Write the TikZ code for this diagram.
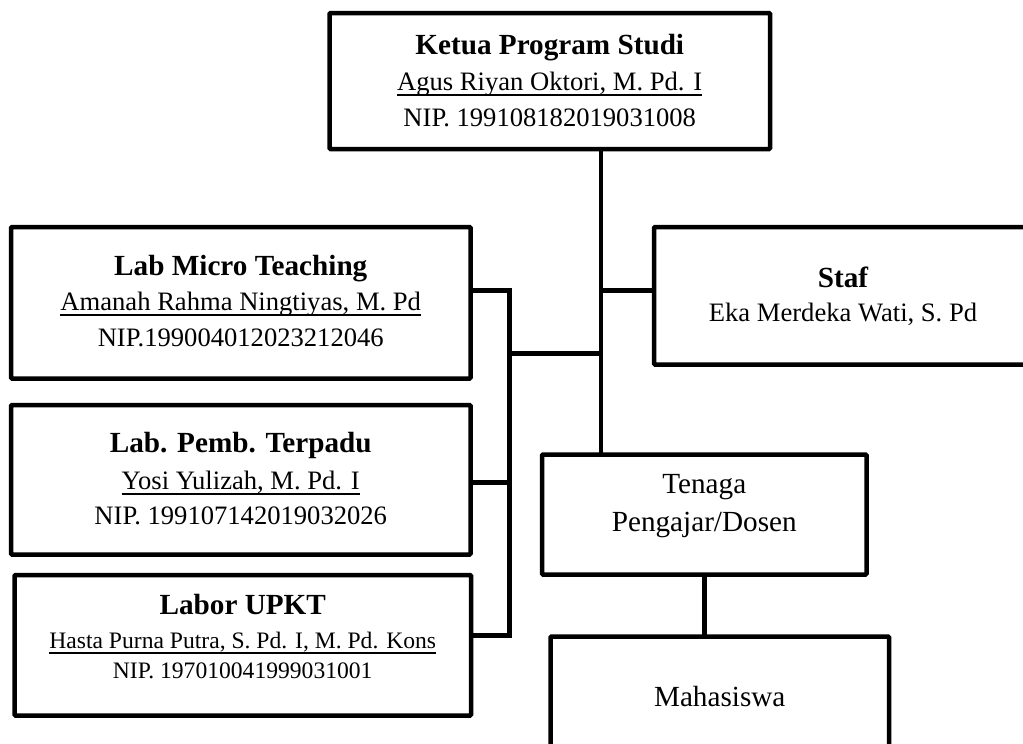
\documentclass[tikz,border=0pt]{standalone}
\usepackage{fontspec}
\setmainfont{Liberation Serif}
\newsavebox\ulbox
\newcommand\myul[1]{\sbox\ulbox{#1}\rlap{\rule[-5.5pt]{\wd\ulbox}{1.4pt}}\usebox\ulbox}
\begin{document}
\begin{tikzpicture}[x=1pt,y=-1pt,
  box/.style={draw,line width=4.5pt,rounded corners=1pt,outer sep=0pt,inner sep=0pt},
  conn/.style={line width=4.5pt},
  ttl/.style={anchor=base,inner sep=0pt,font=\bfseries\fontsize{29.2pt}{34pt}\selectfont},
  txt/.style={anchor=base,inner sep=0pt,font=\fontsize{26.6pt}{32pt}\selectfont},
  txts/.style={anchor=base,inner sep=0pt,font=\fontsize{23.6pt}{28pt}\selectfont},
  txtl/.style={anchor=base,inner sep=0pt,font=\fontsize{29.2pt}{34pt}\selectfont}
]
\useasboundingbox (0,0) rectangle (1023,744);
\clip (0,0) rectangle (1023,744);

% boxes
\node[box,minimum width=440.5pt,minimum height=136pt] (ketua) at (549.75,81) {};
\node[box,minimum width=459.5pt,minimum height=151.5pt] (labmicro) at (240.75,302.75) {};
\node[box,minimum width=459.5pt,minimum height=149.5pt] (labpemb) at (240.75,479.75) {};
\node[box,minimum width=456.5pt,minimum height=140.5pt] (labor) at (242.75,645.25) {};
\node[box,minimum width=378pt,minimum height=137.5pt] (staf) at (843,295.75) {};
\node[box,minimum width=324.5pt,minimum height=120pt] (tenaga) at (704.25,514.5) {};
\node[box,minimum width=338.5pt,minimum height=153.5pt] (mahasiswa) at (719.75,713.25) {};

% texts
\node[ttl] (ketua-t) at (549.75,54) {Ketua Program Studi};
\node[txt] (ketua-n) at (549.75,90) {\myul{Agus Riyan Oktori, M. Pd. I}};
\node[txt] (ketua-p) at (549.75,126) {NIP. 199108182019031008};

\node[ttl] (labmicro-t) at (240.75,275) {Lab Micro Teaching};
\node[txt] (labmicro-n) at (240.75,310) {\myul{Amanah Rahma Ningtiyas, M. Pd}};
\node[txt] (labmicro-p) at (240.75,346.7) {NIP.199004012023212046};

\node[ttl] (labpemb-t) at (240.75,452.7) {Lab. Pemb. Terpadu};
\node[txt] (labpemb-n) at (240.75,489) {\myul{Yosi Yulizah, M. Pd. I}};
\node[txt] (labpemb-p) at (240.75,524) {NIP. 199107142019032026};

\node[ttl] (labor-t) at (242.75,614) {Labor UPKT};
\node[txts] (labor-n) at (242.75,648.3) {\myul{Hasta Purna Putra, S. Pd. I, M. Pd. Kons}};
\node[txts] (labor-p) at (242.75,678.3) {NIP. 197010041999031001};

\node[ttl] (staf-t) at (843,287.3) {Staf};
\node[txt] (staf-n) at (843,321.7) {Eka Merdeka Wati, S. Pd};

\node[txtl] (tenaga-a) at (704.25,493.3) {Tenaga};
\node[txtl] (tenaga-b) at (704.25,531.7) {Pengajar/Dosen};

\node[txtl] (mahasiswa-t) at (719.75,706.7) {Mahasiswa};

% connectors
\coordinate (js) at (601,290.5);
\coordinate (sva) at (509.5,290.5);
\coordinate (svb) at (509.5,482.5);
\coordinate (svc) at (509.5,635.5);
\coordinate (svh) at (509.5,353.5);
\draw[conn] (ketua.south -| js) -- (tenaga.north -| js);
\draw[conn] (js) -- (js -| staf.west);
\draw[conn] (sva -| labmicro.east) -- (sva) -- (svc) -- (svc -| labor.east);
\draw[conn] (svb -| labpemb.east) -- (svb);
\draw[conn] (svh) -- (svh -| js);
\draw[conn] (tenaga.south) -- (mahasiswa.north -| tenaga.south);
\end{tikzpicture}
\end{document}
